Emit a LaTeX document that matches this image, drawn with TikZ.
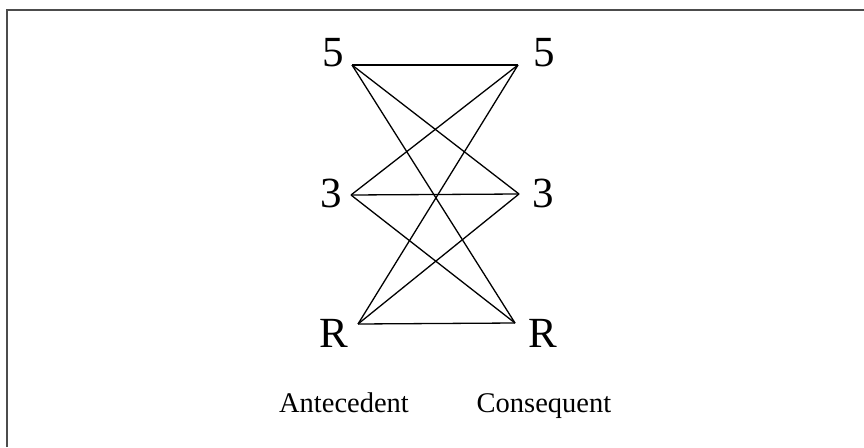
\documentclass[tikz,border=0pt]{standalone}
\usepackage{fontspec}
\setmainfont{Liberation Serif}
\begin{document}
\begin{tikzpicture}[x=1pt,y=-1pt,
  big/.style={anchor=base,inner sep=0pt,font=\fontsize{43}{50}\selectfont},
  caption/.style={anchor=base,inner sep=0pt,font=\fontsize{28.5}{34}\selectfont},
  link/.style={line width=1.3pt,black},
  frame/.style={line width=1.5pt,black!70}]
\useasboundingbox (0,0) rectangle (864,447);
\draw[frame] (7,447) -- (7,10) -- (864,10);
\node[big] (l5) at (333,66) {5};
\node[big] (r5) at (544,66) {5};
\node[big] (l3) at (331,207) {3};
\node[big] (r3) at (543,207) {3};
\node[big] (lR) at (334,347) {R};
\node[big] (rR) at (543,347) {R};
\node[caption] (ante) at (344,412) {Antecedent};
\node[caption] (cons) at (544,412) {Consequent};
\coordinate (a5) at (352,65);
\coordinate (a3) at (351,195);
\coordinate (aR) at (358,324);
\coordinate (b5) at (518,65);
\coordinate (b3) at (519,194);
\coordinate (bR) at (515,323);
\foreach \a in {a5,a3,aR}
  \foreach \b in {b5,b3,bR}
    \draw[link] (\a) -- (\b);
\end{tikzpicture}
\end{document}
